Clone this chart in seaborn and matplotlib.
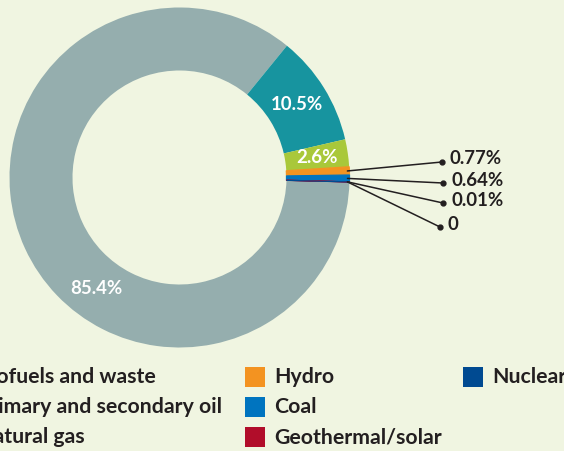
import matplotlib
matplotlib.use("Agg")
import matplotlib.pyplot as plt
import seaborn as sns
import numpy as np
from matplotlib.patches import Rectangle

sns.set_theme(style="white")
plt.rcParams['font.family'] = ['Lato', 'DejaVu Sans']

# data
categories = ["Biofuels and waste", "Primary and secondary oil", "Natural gas",
              "Hydro", "Coal", "Geothermal/solar", "Nuclear"]
values = [85.4, 10.5, 2.6, 0.77, 0.64, 0.01, 0.0]
labels = ["85.4%", "10.5%", "2.6%", "0.77%", "0.64%", "0.01%", "0"]
colors = ["#95AEAE", "#17949F", "#A9C83A", "#F39321", "#0074BF", "#B10D2A", "#004A91"]

BG = "#F0F5E1"
TXT = "#231F20"
LBL_FS = 13.4
LEG_FS = 15.3

fig = plt.figure(figsize=(5.64, 4.51), dpi=100, facecolor=BG)
ax = fig.add_axes([0, 0, 1, 1])
ax.set_facecolor(BG)

cx, cy, R, W = 179.5, 177.5, 170, 63
wedges, _ = ax.pie(values, colors=colors, center=(cx, cy), radius=R,
                   startangle=1.5, counterclock=True,
                   wedgeprops=dict(width=W, linewidth=0), frame=True)
for w, c, v in zip(wedges, colors, values):
    if v < 1:
        w.set_edgecolor(c)
        w.set_linewidth(0.9)
ax.set_xlim(0, 564)
ax.set_ylim(451, 0)
ax.set_aspect('equal')
ax.axis('off')

rmid = R - W / 2
# in-ring labels
for i, ang in [(0, 127), (1, None), (2, None)]:
    w = wedges[i]
    a = ang if ang is not None else (w.theta1 + w.theta2) / 2
    x = cx + rmid * np.cos(np.radians(a))
    y = cy + rmid * np.sin(np.radians(a))
    ax.text(x, y, labels[i], color="white", fontsize=LBL_FS, fontweight="bold",
            ha="center", va="center")

# leader lines for small slices
dot_y = [162, 183, 203, 227]
dot_x = [442, 443, 443, 440]
for k, i in enumerate(range(3, 7)):
    w = wedges[i]
    a = (w.theta1 + w.theta2) / 2
    x0 = cx + (R - 2) * np.cos(np.radians(a))
    y0 = cy + (R - 2) * np.sin(np.radians(a))
    ax.plot([x0, dot_x[k]], [y0, dot_y[k]], color=TXT, lw=1.1)
    ax.plot(dot_x[k], dot_y[k], 'o', color=TXT, ms=3.5)
    ax.text(dot_x[k] + 8, dot_y[k] - 3, labels[i], color=TXT, fontsize=LBL_FS,
            fontweight="bold", ha="left", va="center")

# legend (manual, first column partly off the left edge as in the reference)
renderer = fig.canvas.get_renderer()
probe = ax.text(0, 0, categories[1], fontsize=LEG_FS, fontweight="bold")
wpx = probe.get_window_extent(renderer).width
probe.remove()
col1_text_left = 222 - wpx
col_x = [col1_text_left - 29, 245, 463]
row_y = [367, 397, 427]
for i, name in enumerate(categories):
    c, r = divmod(i, 3)
    ax.add_patch(Rectangle((col_x[c], row_y[r]), 20, 20, color=colors[i], lw=0))
    ax.text(col_x[c] + 29, row_y[r] + 10, name, color=TXT, fontsize=LEG_FS,
            fontweight="bold", ha="left", va="center")

fig.savefig("out.png", dpi=100, facecolor=BG)
